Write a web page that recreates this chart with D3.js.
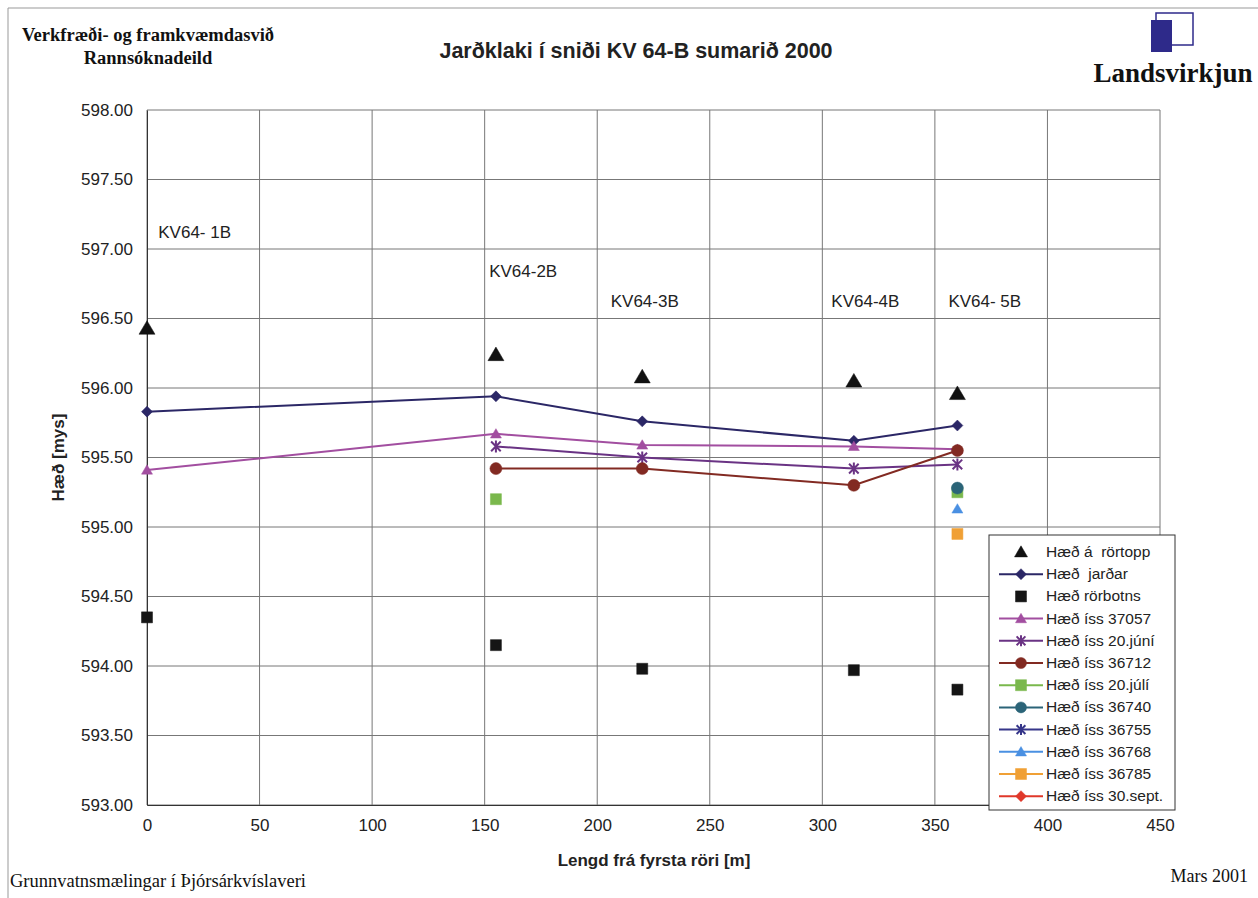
<!DOCTYPE html>
<html>
<head>
<meta charset="utf-8">
<script src="https://cdn.jsdelivr.net/npm/d3@7"></script>
<style>
  body { margin: 0; background: #fff; }
  text { font-family: "Liberation Sans", Arial, sans-serif; }
  .serif { font-family: "Liberation Serif", "Times New Roman", serif; }
</style>
</head>
<body>
<div id="chart"></div>
<script>
// DATA ===========================================================================================
const wells = ["KV64- 1B", "KV64-2B", "KV64-3B", "KV64-4B", "KV64- 5B"]
const distances = [0, 155, 220, 314, 360]
const labelPos = [[5, 597.08], [152, 596.80], [206, 596.58], [304, 596.58], [356, 596.58]]

const rortopp = [596.43, 596.24, 596.08, 596.05, 595.96]
const jardar = [595.83, 595.94, 595.76, 595.62, 595.73]
const rorbotns = [594.35, 594.15, 593.98, 593.97, 593.83]
const iss37057 = [595.41, 595.67, 595.59, 595.58, 595.56]
const iss20juni = [null, 595.58, 595.50, 595.42, 595.45]
const iss36712 = [null, 595.42, 595.42, 595.30, 595.55]
const iss20juli = [null, 595.20, null, null, 595.25]
const iss36740 = [null, null, null, null, 595.28]
const iss36755 = [null, null, null, null, null]
const iss36768 = [null, null, null, null, 595.13]
const iss36785 = [null, null, null, null, 594.95]
const iss30sept = [null, null, null, null, null]

const xTicks = [0, 50, 100, 150, 200, 250, 300, 350, 400, 450]
const yTicks = [593, 593.5, 594, 594.5, 595, 595.5, 596, 596.5, 597, 597.5, 598]

const series = [
  {name: "Hæð á  rörtopp", values: rortopp, color: "#111", shape: "triangle", line: false, size: 16},
  {name: "Hæð  jarðar", values: jardar, color: "#2b2766", shape: "diamond", line: true, size: 11},
  {name: "Hæð rörbotns", values: rorbotns, color: "#151515", shape: "square", line: false, size: 11},
  {name: "Hæð íss 37057", values: iss37057, color: "#a24ea0", shape: "triangle", line: true, size: 11},
  {name: "Hæð íss 20.júní", values: iss20juni, color: "#6a3384", shape: "star", line: true, size: 12},
  {name: "Hæð íss 36712", values: iss36712, color: "#822a22", shape: "circle", line: true, size: 12},
  {name: "Hæð íss 20.júlí", values: iss20juli, color: "#7ab84c", shape: "square", line: true, size: 11},
  {name: "Hæð íss 36740", values: iss36740, color: "#2b6478", shape: "circle", line: true, size: 12},
  {name: "Hæð íss 36755", values: iss36755, color: "#36368a", shape: "star", line: true, size: 12},
  {name: "Hæð íss 36768", values: iss36768, color: "#4a90e2", shape: "triangle", line: true, size: 11},
  {name: "Hæð íss 36785", values: iss36785, color: "#f0a035", shape: "square", line: true, size: 11},
  {name: "Hæð íss 30.sept.", values: iss30sept, color: "#e0382a", shape: "diamond", line: true, size: 11}
]

// SET UP =========================================================================================
const width = 1258
const height = 898
const margin = {top: 110, left: 147, right: 98, bottom: 93}
const ctr_width = width - margin.left - margin.right
const ctr_height = height - margin.top - margin.bottom

const svg = d3.select('#chart').append('svg')
  .attr('width', width)
  .attr('height', height)

// page frame
svg.append('path')
  .attr('d', `M8,${height} L8,8 L${width},8`)
  .attr('fill', 'none')
  .attr('stroke', '#999')
  .attr('stroke-width', 1)

const g = svg.append('g')
  .attr('transform', `translate(${margin.left}, ${margin.top})`)

// SCALES AND AXES ================================================================================
const x = d3.scaleLinear().domain([0, 450]).range([0, ctr_width])
const y = d3.scaleLinear().domain([593, 598]).range([ctr_height, 0])

g.append('g')
  .selectAll('line.v')
  .data(xTicks)
  .join('line')
    .attr('x1', d => x(d)).attr('x2', d => x(d))
    .attr('y1', 0).attr('y2', ctr_height)
    .attr('stroke', '#777').attr('stroke-width', 1)

g.append('g')
  .selectAll('line.h')
  .data(yTicks)
  .join('line')
    .attr('x1', 0).attr('x2', ctr_width)
    .attr('y1', d => y(d)).attr('y2', d => y(d))
    .attr('stroke', '#777').attr('stroke-width', 1)

const xAxis = g.append('g')
  .attr('transform', `translate(0, ${ctr_height})`)
  .call(d3.axisBottom(x).tickValues(xTicks).tickSize(0).tickPadding(14).tickFormat(d3.format('d')))
xAxis.select('.domain').attr('stroke', '#333')
xAxis.selectAll('text').attr('font-size', 17).attr('fill', '#222')
  .style('font-family', '"Liberation Sans", Arial, sans-serif')

const yAxis = g.append('g')
  .call(d3.axisLeft(y).tickValues(yTicks).tickSize(0).tickPadding(14).tickFormat(d3.format('.2f')))
yAxis.select('.domain').attr('stroke', '#333')
yAxis.selectAll('text').attr('font-size', 17).attr('fill', '#222')
  .style('font-family', '"Liberation Sans", Arial, sans-serif')

// MARKS ==========================================================================================
const symbolPath = (shape, size) => {
  const r = size / 2
  if (shape === 'star') {
    const a = r * 0.8
    return `M0,${-r}L0,${r}M${-a},${-a}L${a},${a}M${-a},${a}L${a},${-a}`
  }
  if (shape === 'diamond') return `M0,${-r}L${r},0L0,${r}L${-r},0Z`
  if (shape === 'square') return `M${-r},${-r}H${r}V${r}H${-r}Z`
  if (shape === 'triangle') return `M0,${-r * 0.95}L${r},${r * 0.75}L${-r},${r * 0.75}Z`
  return d3.symbol().type(d3.symbolCircle).size(Math.PI * r * r)()
}
const drawMarker = (sel, s) => {
  sel.append('path')
    .attr('d', symbolPath(s.shape, s.size))
    .attr('fill', s.shape === 'star' ? 'none' : s.color)
    .attr('stroke', s.color)
    .attr('stroke-width', s.shape === 'star' ? 2 : 0.5)
}

series.forEach(s => {
  const all = distances.map((d, i) => ({x: d, v: s.values[i]}))
  const pts = all.filter(p => p.v != null)
  if (s.line && pts.length > 1) {
    g.append('path')
      .datum(all)
      .attr('fill', 'none')
      .attr('stroke', s.color)
      .attr('stroke-width', 2)
      .attr('d', d3.line().defined(p => p.v != null).x(p => x(p.x)).y(p => y(p.v)))
  }
  pts.forEach(p => {
    const m = g.append('g').attr('transform', `translate(${x(p.x)}, ${y(p.v)})`)
    drawMarker(m, s)
  })
})

// well labels
g.selectAll('text.well')
  .data(wells)
  .join('text')
    .attr('x', (d, i) => x(labelPos[i][0]))
    .attr('y', (d, i) => y(labelPos[i][1]))
    .attr('font-size', 17)
    .attr('fill', '#222')
    .style('white-space', 'pre')
    .text(d => d)

// LEGEND =========================================================================================
const lg = svg.append('g').attr('transform', 'translate(989, 535)')
lg.append('rect')
  .attr('width', 186).attr('height', 275)
  .attr('fill', '#fff').attr('stroke', '#333').attr('stroke-width', 1)
series.forEach((s, i) => {
  const row = lg.append('g').attr('transform', `translate(0, ${17 + i * 22.2})`)
  if (s.line) {
    row.append('line').attr('x1', 10).attr('x2', 54).attr('y1', 0).attr('y2', 0)
      .attr('stroke', s.color).attr('stroke-width', 2)
  }
  const m = row.append('g').attr('transform', 'translate(32, 0)')
  drawMarker(m, {...s, size: s.shape === 'triangle' && !s.line ? 13 : Math.min(s.size, 11)})
  row.append('text').attr('x', 57).attr('y', 5)
    .attr('font-size', 15.5).attr('fill', '#222')
    .style('white-space', 'pre')
    .text(s.name)
})

// TITLES =========================================================================================
svg.append('text')
  .attr('x', 636).attr('y', 58)
  .attr('text-anchor', 'middle')
  .attr('font-size', 21.5).attr('font-weight', 'bold').attr('fill', '#222')
  .text('Jarðklaki í sniði KV 64-B sumarið 2000')

svg.append('text')
  .attr('x', 654).attr('y', 866)
  .attr('text-anchor', 'middle')
  .attr('font-size', 17).attr('font-weight', 'bold').attr('fill', '#222')
  .text('Lengd frá fyrsta röri [m]')

svg.append('text')
  .attr('transform', `translate(64, ${margin.top + ctr_height / 2}) rotate(-90)`)
  .attr('text-anchor', 'middle')
  .attr('font-size', 17).attr('font-weight', 'bold').attr('fill', '#222')
  .text('Hæð [mys]')

svg.append('text').attr('class', 'serif')
  .attr('x', 148).attr('y', 41).attr('text-anchor', 'middle')
  .attr('font-size', 18.5).attr('font-weight', 'bold').attr('fill', '#111')
  .text('Verkfræði- og framkvæmdasvið')
svg.append('text').attr('class', 'serif')
  .attr('x', 148).attr('y', 64).attr('text-anchor', 'middle')
  .attr('font-size', 18.5).attr('font-weight', 'bold').attr('fill', '#111')
  .text('Rannsóknadeild')

// logo
svg.append('rect').attr('x', 1156).attr('y', 13).attr('width', 37).attr('height', 32)
  .attr('fill', '#fff').attr('stroke', '#2e2a8a').attr('stroke-width', 1.5)
svg.append('rect').attr('x', 1151).attr('y', 20).attr('width', 21).attr('height', 32)
  .attr('fill', '#2e2a8a')
svg.append('text').attr('class', 'serif')
  .attr('x', 1173).attr('y', 82).attr('text-anchor', 'middle')
  .attr('font-size', 27).attr('font-weight', 'bold').attr('fill', '#111')
  .text('Landsvirkjun')

// footer
svg.append('text').attr('class', 'serif')
  .attr('x', 10).attr('y', 887)
  .attr('font-size', 18.5).attr('fill', '#111')
  .text('Grunnvatnsmælingar í Þjórsárkvíslaveri')
svg.append('text').attr('class', 'serif')
  .attr('x', 1248).attr('y', 882).attr('text-anchor', 'end')
  .attr('font-size', 18).attr('fill', '#111')
  .text('Mars 2001')
</script>
</body>
</html>
